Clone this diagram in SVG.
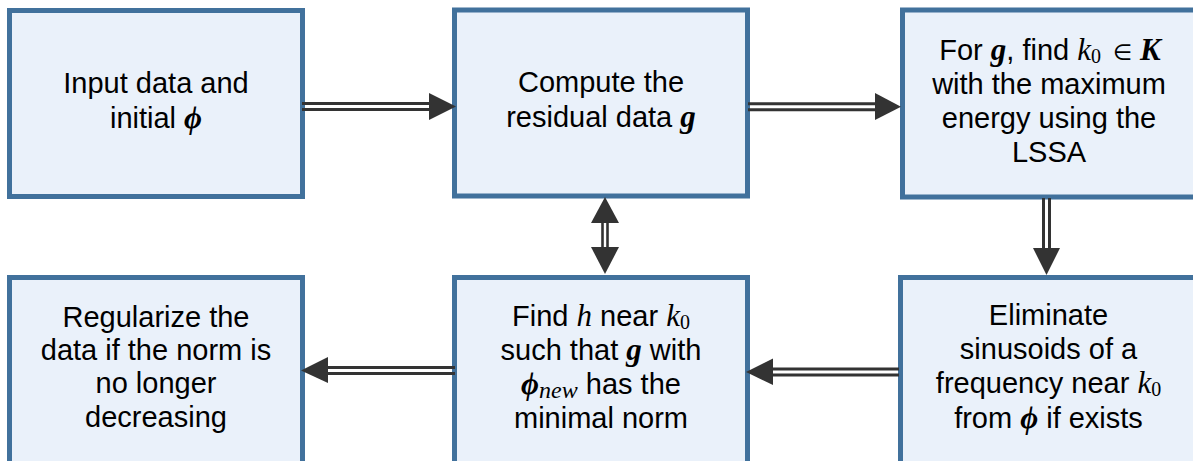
<svg xmlns="http://www.w3.org/2000/svg" width="1193" height="461" viewBox="0 0 1193 461">
<style>
.box{fill:#EAF1FA;stroke:#41719C;stroke-width:5}
.t{font-family:"Liberation Sans",Arial,sans-serif;font-size:29px;fill:#000;text-anchor:middle}
.m{font-family:"Liberation Serif","DejaVu Serif",serif;font-style:italic;font-size:31px}
.b{font-weight:bold}
.sub{font-family:"Liberation Serif","DejaVu Serif",serif;font-style:normal;font-size:20px}
.el{font-family:"DejaVu Sans",sans-serif;font-size:22px}
.ln{stroke:#333;stroke-width:3;fill:none}
.hd{fill:#333}
</style>
<rect width="1193" height="461" fill="#fff"/>
<g id="n1">
<rect class="box" x="9.5" y="10.5" width="293" height="186"/>
<text class="t"><tspan x="156" y="93">Input data and</tspan><tspan x="156" y="128">initial <tspan class="m b">ϕ</tspan></tspan></text>
</g>
<g id="n2">
<rect class="box" x="454.5" y="10" width="293" height="186"/>
<text class="t"><tspan x="601" y="92">Compute the</tspan><tspan x="601" y="127">residual data <tspan class="m b">g</tspan></tspan></text>
</g>
<g id="n3">
<rect class="box" x="902.5" y="10" width="293" height="187"/>
<text class="t" x="1101" y="60" style="text-anchor:end">For <tspan class="m b">g</tspan>, find <tspan class="m">k</tspan><tspan class="sub" dy="3">0</tspan></text>
<text class="t el" x="1113" y="60" style="text-anchor:start">∈</text>
<text class="t m b" x="1140" y="60" style="text-anchor:start">K</text>
<text class="t"><tspan x="1049" y="94">with the maximum</tspan><tspan x="1049" y="127.5">energy using the</tspan><tspan x="1049" y="161.5">LSSA</tspan></text>
</g>
<g id="n4">
<rect class="box" x="9.5" y="277.5" width="293" height="200"/>
<text class="t"><tspan x="156" y="327">Regularize the</tspan><tspan x="156" y="360">data if the norm is</tspan><tspan x="156" y="393">no longer</tspan><tspan x="156" y="427">decreasing</tspan></text>
</g>
<g id="n5">
<rect class="box" x="454.5" y="277.5" width="293" height="200"/>
<text class="t"><tspan x="601" y="326">Find <tspan class="m">h</tspan> near <tspan class="m">k</tspan><tspan class="sub" dy="3">0</tspan></tspan><tspan x="601" y="360">such that <tspan class="m b">g</tspan> with</tspan><tspan x="601" y="394"><tspan class="m b">ϕ</tspan><tspan class="m" dy="4" style="font-size:24px">new</tspan><tspan dy="-4"> has the</tspan></tspan><tspan x="601" y="428">minimal norm</tspan></text>
</g>
<g id="n6">
<rect class="box" x="900.5" y="277.5" width="295" height="200"/>
<text class="t"><tspan x="1048.5" y="325">Eliminate</tspan><tspan x="1048.5" y="359">sinusoids of a</tspan><tspan x="1048.5" y="393">frequency near <tspan class="m">k</tspan><tspan class="sub" dy="3">0</tspan></tspan><tspan x="1048.5" y="428">from <tspan class="m b">ϕ</tspan> if exists</tspan></text>
</g>
<g id="connectors">
<line class="ln" x1="302" y1="103.5" x2="431" y2="103.5"/>
<line class="ln" x1="302" y1="109.5" x2="431" y2="109.5"/>
<polygon class="hd" points="429,93 456,106.5 429,120"/>
<line class="ln" x1="748" y1="103.7" x2="877" y2="103.7"/>
<line class="ln" x1="748" y1="109.7" x2="877" y2="109.7"/>
<polygon class="hd" points="875,93 901,106.7 875,120"/>
<line class="ln" x1="1043.5" y1="198" x2="1043.5" y2="250"/>
<line class="ln" x1="1049.5" y1="198" x2="1049.5" y2="250"/>
<polygon class="hd" points="1033,248 1060,248 1046.5,275"/>
<line class="ln" x1="899" y1="369" x2="771" y2="369"/>
<line class="ln" x1="899" y1="375" x2="771" y2="375"/>
<polygon class="hd" points="773,358.5 773,385 746,372"/>
<line class="ln" x1="455" y1="367.5" x2="326" y2="367.5"/>
<line class="ln" x1="455" y1="373.5" x2="326" y2="373.5"/>
<polygon class="hd" points="328,357 328,383 301,370.5"/>
<line class="ln" x1="602.5" y1="221" x2="602.5" y2="249" style="stroke-width:2.6"/>
<line class="ln" x1="607.5" y1="221" x2="607.5" y2="249" style="stroke-width:2.6"/>
<polygon class="hd" points="591,223 619,223 605,197"/>
<polygon class="hd" points="591,247 619,247 605,274"/>
</g>
</svg>
